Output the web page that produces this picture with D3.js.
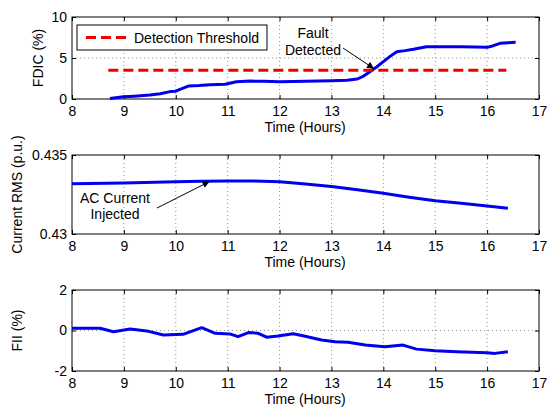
<!DOCTYPE html>
<html><head><meta charset="utf-8">
<script src="https://cdn.jsdelivr.net/npm/d3@7"></script>
<style>
body{margin:0;background:#fff;}
text{font-family:"Liberation Sans",Arial,sans-serif;}
</style></head>
<body><svg id="c" width="549" height="408"></svg>
<script>
// ---- data ----
const xTicks = [8,9,10,11,12,13,14,15,16,17];
const fdicT = [8.73,8.99,9.2,9.5,9.7,9.89,10.0,10.08,10.24,10.45,10.66,10.95,11.17,11.43,11.7,12.0,12.5,13.0,13.3,13.5,13.62,13.74,13.87,14.0,14.13,14.26,14.42,14.58,14.83,15.0,15.5,16.0,16.12,16.25,16.4,16.55];
const fdicV = [0.05,0.28,0.35,0.49,0.65,0.9,0.95,1.18,1.58,1.65,1.75,1.79,2.1,2.19,2.15,2.1,2.15,2.23,2.3,2.44,2.8,3.33,3.9,4.55,5.2,5.77,5.9,6.06,6.38,6.38,6.38,6.3,6.5,6.79,6.85,6.91];
const thresholdT = [8.7,16.37];
const thresholdV = [3.5,3.5];
const fdicYTicks = [0,5,10];

const rmsT = [8,9,10,10.5,11,11.5,12,12.5,13,13.5,14,14.5,15,15.5,16,16.4];
const rmsV = [0.43318,0.43322,0.4333,0.43334,0.43335,0.43335,0.43331,0.43316,0.433,0.4328,0.43258,0.43233,0.43211,0.43194,0.43177,0.43163];
const rmsYTicks = [0.43,0.435];

const fiiT = [8,8.54,8.8,9.12,9.44,9.76,10.14,10.5,10.76,11.04,11.2,11.4,11.58,11.75,11.97,12.26,12.45,12.81,13.07,13.32,13.65,14.03,14.38,14.64,15.0,15.41,16.0,16.15,16.4];
const fiiV = [0.11,0.11,-0.06,0.07,-0.02,-0.22,-0.19,0.14,-0.14,-0.17,-0.3,-0.1,-0.13,-0.33,-0.27,-0.16,-0.26,-0.47,-0.55,-0.58,-0.72,-0.8,-0.72,-0.92,-1.0,-1.05,-1.1,-1.13,-1.05];
const fiiYTicks = [-2,0,2];

// ---- layout ----
const FS = 14;
const svg = d3.select("#c");
const L = 72, R = 539;
const x = d3.scaleLinear().domain([8,17]).range([L,R]);
const panels = [
  {top:17, bot:99, dom:[0,10], yt:fdicYTicks, fmt:d=>d, ylab:"FDIC (%)", ylx:38, hgrid:[5], T:fdicT, V:fdicV},
  {top:155, bot:234, dom:[0.43,0.435], yt:rmsYTicks, fmt:d=>d, ylab:"Current RMS (p.u.)", ylx:17, hgrid:[], T:rmsT, V:rmsV},
  {top:290, bot:371, dom:[-2,2], yt:fiiYTicks, fmt:d=>d, ylab:"FII (%)", ylx:17, hgrid:[0], T:fiiT, V:fiiV}
];
const blue = "#0000ee";

panels.forEach((p,i)=>{
  const y = d3.scaleLinear().domain(p.dom).range([p.bot,p.top]);
  p.y = y;
  const g = svg.append("g");
  // grid
  xTicks.slice(1,-1).forEach(t=>{
    g.append("line").attr("x1",x(t)).attr("x2",x(t)).attr("y1",p.top).attr("y2",p.bot)
     .attr("stroke","#777").attr("stroke-width",0.8).attr("stroke-dasharray","1,3");
  });
  p.hgrid.forEach(v=>{
    g.append("line").attr("x1",L).attr("x2",R).attr("y1",y(v)).attr("y2",y(v))
     .attr("stroke","#777").attr("stroke-width",0.8).attr("stroke-dasharray","1,3");
  });
  // axes
  const xa = g.append("g").attr("transform",`translate(0,${p.bot})`)
    .call(d3.axisBottom(x).tickValues(xTicks).tickSize(-4).tickPadding(7).tickFormat(d=>d));
  const xt = g.append("g").attr("transform",`translate(0,${p.top})`)
    .call(d3.axisTop(x).tickValues(xTicks).tickSize(-4).tickFormat(""));
  const ya = g.append("g").attr("transform",`translate(${L},0)`)
    .call(d3.axisLeft(y).tickValues(p.yt).tickSize(-4).tickPadding(5).tickFormat(p.fmt));
  const yr = g.append("g").attr("transform",`translate(${R},0)`)
    .call(d3.axisRight(y).tickValues(p.yt).tickSize(-4).tickFormat(""));
  [xa,xt,ya,yr].forEach(a=>{
    a.select(".domain").remove();
    a.selectAll("line").attr("stroke","#000");
    a.selectAll("text").attr("font-size",FS).attr("fill","#000")
      .style("font-family","'Liberation Sans',Arial,sans-serif");
  });
  g.append("rect").attr("x",L).attr("y",p.top).attr("width",R-L).attr("height",p.bot-p.top)
    .attr("fill","none").attr("stroke","#000").attr("stroke-width",1);
  // labels
  g.append("text").attr("x",305).attr("y",p.bot+33).attr("text-anchor","middle")
    .attr("font-size",FS).text("Time (Hours)");
  g.append("text").attr("transform",`translate(${p.ylx+5},${(p.top+p.bot)/2}) rotate(-90)`)
    .attr("text-anchor","middle").attr("font-size",FS).text(p.ylab);
  // data line
  const line = d3.line().x((d,k)=>x(p.T[k])).y((d,k)=>y(p.V[k]));
  g.append("path").datum(p.V).attr("d",line).attr("fill","none")
    .attr("stroke",blue).attr("stroke-width",3).attr("stroke-linejoin","round");
});

// threshold
const p0 = panels[0];
svg.append("path").datum(thresholdV)
  .attr("d",d3.line().x((d,k)=>x(thresholdT[k])).y(d=>p0.y(d)))
  .attr("fill","none").attr("stroke","#ee0000").attr("stroke-width",3).attr("stroke-dasharray","10,5");

// legend
svg.append("rect").attr("x",77).attr("y",25).attr("width",190).attr("height",25)
  .attr("fill","#fff").attr("stroke","#000").attr("stroke-width",1);
svg.append("line").attr("x1",86).attr("x2",129).attr("y1",37.5).attr("y2",37.5)
  .attr("stroke","#ee0000").attr("stroke-width",3).attr("stroke-dasharray","10,5");
svg.append("text").attr("x",134).attr("y",42.5).attr("font-size",FS).text("Detection Threshold");

// arrows
const defs = svg.append("defs");
defs.append("marker").attr("id","ah").attr("viewBox","0 0 10 10").attr("refX",10).attr("refY",5)
  .attr("markerWidth",9).attr("markerHeight",7).attr("markerUnits","userSpaceOnUse").attr("orient","auto")
  .append("path").attr("d","M0,0L10,5L0,10z").attr("fill","#000");
function arrow(x1,y1,x2,y2){
  svg.append("line").attr("x1",x1).attr("y1",y1).attr("x2",x2).attr("y2",y2)
    .attr("stroke","#000").attr("stroke-width",1).attr("marker-end","url(#ah)");
}
// Fault detected
svg.append("text").attr("x",313).attr("y",38).attr("text-anchor","middle").attr("font-size",FS).text("Fault");
svg.append("text").attr("x",313).attr("y",55).attr("text-anchor","middle").attr("font-size",FS).text("Detected");
arrow(343,48,x(13.82),p0.y(3.7));
// AC current injected
svg.append("text").attr("x",115).attr("y",203).attr("text-anchor","middle").attr("font-size",FS).text("AC Current");
svg.append("text").attr("x",115).attr("y",219).attr("text-anchor","middle").attr("font-size",FS).text("Injected");
arrow(157,208,x(10.65),panels[1].y(0.43332));
</script></body></html>
